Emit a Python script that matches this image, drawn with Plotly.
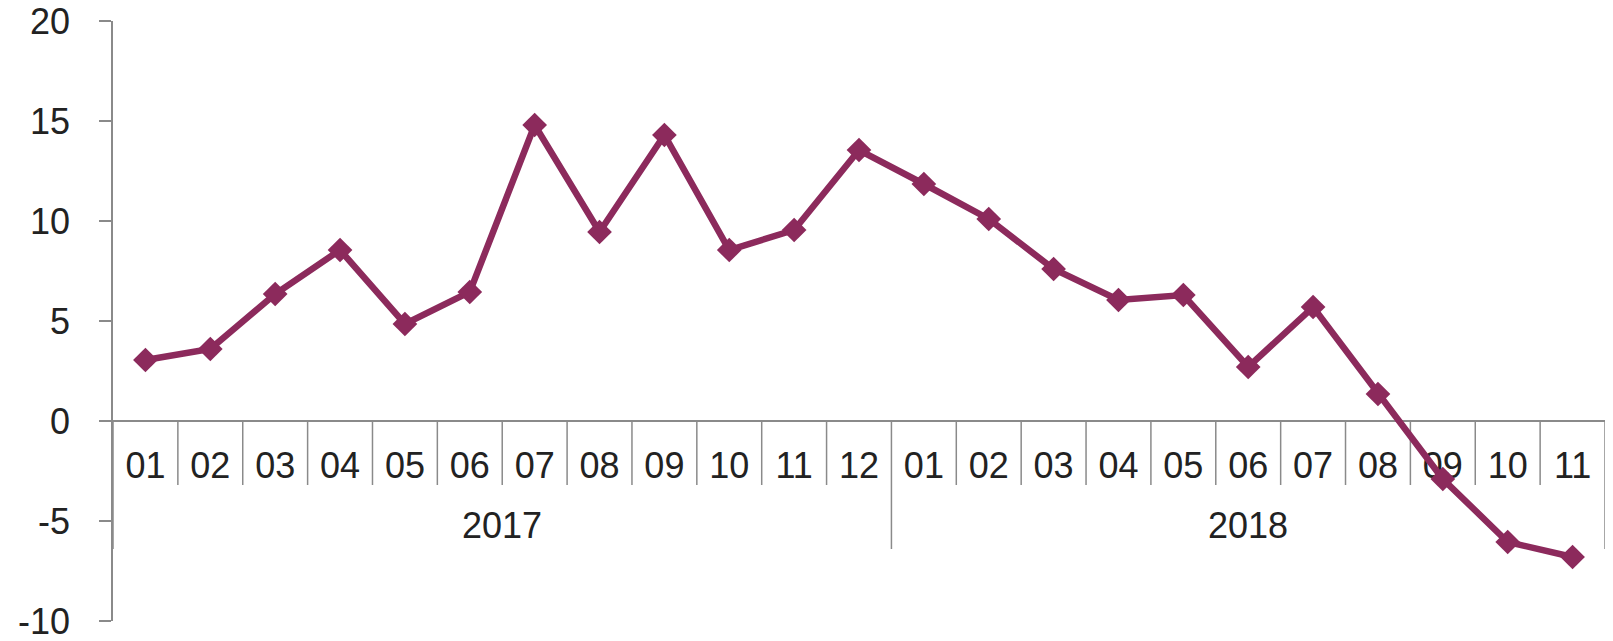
import plotly.graph_objects as go

years = ["2017"] * 12 + ["2018"] * 11
months = ["01", "02", "03", "04", "05", "06", "07", "08", "09", "10", "11", "12",
          "01", "02", "03", "04", "05", "06", "07", "08", "09", "10", "11"]
values = [3.05, 3.6, 6.35, 8.55, 4.85, 6.45, 14.8, 9.45, 14.3, 8.55, 9.55, 13.55,
          11.85, 10.1, 7.6, 6.05, 6.3, 2.7, 5.7, 1.35, -2.9, -6.05, -6.8]
y_ticks = [-10, -5, 0, 5, 10, 15, 20]
y_tick_labels = ["-10", "-5", "0", "5", "10", "15", "20"]

LINE_COLOR = "#8C2A5C"
AXIS_COLOR = "#8A8A8A"
TEXT_COLOR = "#222222"
FONT = "Liberation Sans, Arial, sans-serif"
FS = 36

keys = [f"{y}-{m}" for y, m in zip(years, months)]
n = len(keys)

fig = go.Figure()
fig.add_trace(go.Scatter(
    x=keys, y=values, mode="lines+markers",
    line=dict(color=LINE_COLOR, width=6.5),
    marker=dict(symbol="diamond", size=19, color=LINE_COLOR),
    cliponaxis=False, showlegend=False,
))

shapes = []
# boundaries between categories
for i in range(n + 1):
    if i == 0 or i == n:
        long_ = True
    else:
        long_ = years[i] != years[i - 1]
    shapes.append(dict(
        type="line", xref="x", yref="y", ysizemode="pixel", yanchor=0,
        x0=i - 0.5, x1=i - 0.5, y0=0, y1=-128 if long_ else -64,
        line=dict(color=AXIS_COLOR, width=1.5), layer="below",
    ))

annotations = []
uniq_years = []
for y in years:
    if y not in uniq_years:
        uniq_years.append(y)
for yr in uniq_years:
    idx = [i for i, y in enumerate(years) if y == yr]
    center = (idx[0] + idx[-1]) / 2
    annotations.append(dict(
        x=center, y=0, xref="x", yref="y", text=yr, showarrow=False,
        yshift=-104, font=dict(size=FS, color=TEXT_COLOR, family=FONT),
        xanchor="center", yanchor="middle",
    ))

y_min, y_max = y_ticks[0], y_ticks[-1]
zero_pos = (0 - y_min) / (y_max - y_min)

fig.update_layout(
    width=1613, height=641,
    margin=dict(l=113, r=8, t=21, b=20, autoexpand=False),
    paper_bgcolor="white", plot_bgcolor="white",
    font=dict(family=FONT, size=FS, color=TEXT_COLOR),
    shapes=shapes, annotations=annotations,
    xaxis=dict(
        type="category", categoryorder="array", categoryarray=keys,
        tickmode="array", tickvals=keys, ticktext=months,
        range=[-0.5, n - 0.5], anchor="free", position=zero_pos,
        showline=True, linecolor=AXIS_COLOR, linewidth=1.5,
        ticks="", showgrid=False, zeroline=False, automargin=False,
        ticklabelstandoff=13, layer="below traces",
        tickfont=dict(size=FS, color=TEXT_COLOR, family=FONT),
    ),
    yaxis=dict(
        range=[y_min, y_max], tickmode="array", tickvals=y_ticks,
        ticktext=y_tick_labels, ticklabeloverflow="allow", automargin=False,
        showline=True, linecolor=AXIS_COLOR, linewidth=1.5,
        ticks="outside", ticklen=12, tickcolor=AXIS_COLOR, tickwidth=1.5,
        showgrid=False, zeroline=False, ticklabelstandoff=22,
        tickfont=dict(size=FS, color=TEXT_COLOR, family=FONT),
    ),
)

fig.write_html(
    "out.html",
    config={"displayModeBar": False},
    post_script="document.body.style.margin='0';document.body.style.overflow='hidden';",
)
